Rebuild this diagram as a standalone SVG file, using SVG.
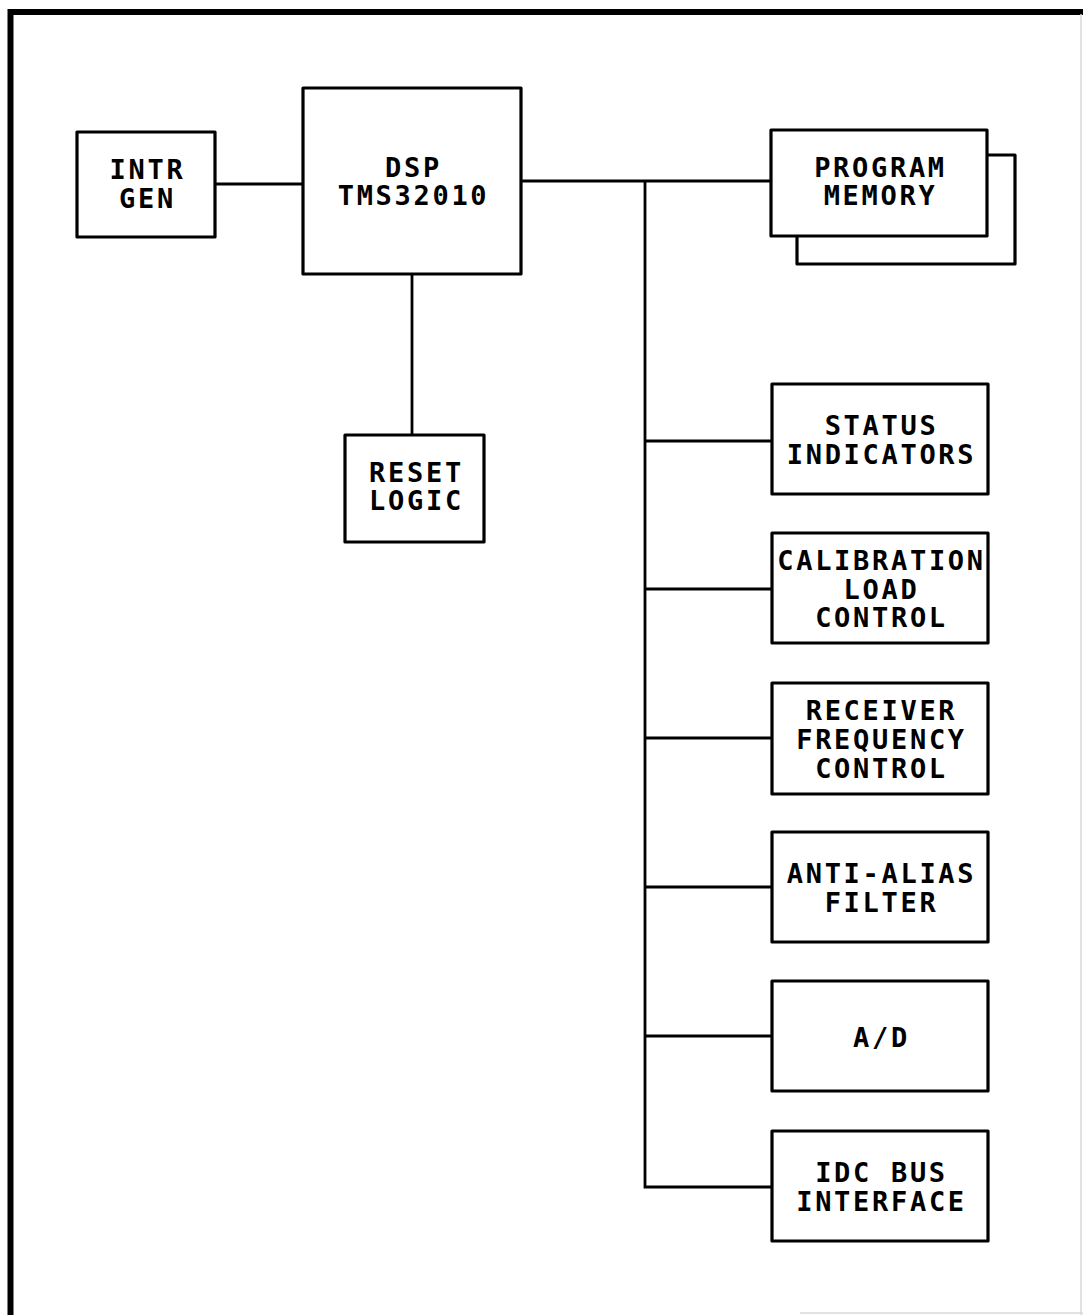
<svg xmlns="http://www.w3.org/2000/svg" width="1083" height="1315" viewBox="0 0 1083 1315">
<style>
.box{fill:#fff;stroke:#000;stroke-width:3.2;stroke-linejoin:round}
.wire{fill:none;stroke:#000;stroke-width:2.8}
text{font-family:"DejaVu Sans Mono","Liberation Mono",monospace;font-weight:bold;font-size:27px;letter-spacing:2.7px;fill:#000;text-anchor:middle}
</style>
<rect width="1083" height="1315" fill="#fff"/>
<g id="frame">
<path d="M10.5,1315 V12 H1083" fill="none" stroke="#000" stroke-width="6"/>
<line x1="1081" y1="14" x2="1081" y2="1315" stroke="#d8d8d8" stroke-width="1.5"/>
<line x1="800" y1="1313" x2="1083" y2="1313" stroke="#d8d8d8" stroke-width="1.5"/>
</g>
<g id="connectors">
<line class="wire" x1="215" y1="184" x2="303" y2="184"/>
<line class="wire" x1="521" y1="181" x2="771" y2="181"/>
<line class="wire" x1="412" y1="274" x2="412" y2="435"/>
<polyline class="wire" points="645,181 645,1187 772,1187"/>
<line class="wire" x1="645" y1="441" x2="772" y2="441"/>
<line class="wire" x1="645" y1="589" x2="772" y2="589"/>
<line class="wire" x1="645" y1="738" x2="772" y2="738"/>
<line class="wire" x1="645" y1="887" x2="772" y2="887"/>
<line class="wire" x1="645" y1="1036" x2="772" y2="1036"/>
</g>
<g id="intr-gen">
<rect class="box" x="77" y="132" width="138" height="105"/>
<text x="147.5" y="179">INTR</text>
<text x="147.5" y="208">GEN</text>
</g>
<g id="dsp">
<rect class="box" x="303" y="88" width="218" height="186"/>
<text x="413.5" y="177">DSP</text>
<text x="413.5" y="205">TMS32010</text>
</g>
<g id="reset-logic">
<rect class="box" x="345" y="435" width="139" height="107"/>
<text x="416.5" y="482">RESET</text>
<text x="416.5" y="510">LOGIC</text>
</g>
<g id="program-memory">
<rect class="box" x="797" y="155" width="218" height="109"/>
<rect class="box" x="771" y="130" width="216" height="106"/>
<text x="880.5" y="177">PROGRAM</text>
<text x="880.5" y="205">MEMORY</text>
</g>
<g id="status-indicators">
<rect class="box" x="772" y="384" width="216" height="110"/>
<text x="881.5" y="435">STATUS</text>
<text x="881.5" y="464">INDICATORS</text>
</g>
<g id="calibration-load-control">
<rect class="box" x="772" y="533" width="216" height="110"/>
<text x="881.5" y="570">CALIBRATION</text>
<text x="881.5" y="599">LOAD</text>
<text x="881.5" y="627">CONTROL</text>
</g>
<g id="receiver-frequency-control">
<rect class="box" x="772" y="683" width="216" height="111"/>
<text x="881.5" y="720">RECEIVER</text>
<text x="881.5" y="749">FREQUENCY</text>
<text x="881.5" y="778">CONTROL</text>
</g>
<g id="anti-alias-filter">
<rect class="box" x="772" y="832" width="216" height="110"/>
<text x="881.5" y="883">ANTI-ALIAS</text>
<text x="881.5" y="912">FILTER</text>
</g>
<g id="a-d">
<rect class="box" x="772" y="981" width="216" height="110"/>
<text x="881.5" y="1047">A/D</text>
</g>
<g id="idc-bus-interface">
<rect class="box" x="772" y="1131" width="216" height="110"/>
<text x="881.5" y="1182">IDC BUS</text>
<text x="881.5" y="1211">INTERFACE</text>
</g>
</svg>
